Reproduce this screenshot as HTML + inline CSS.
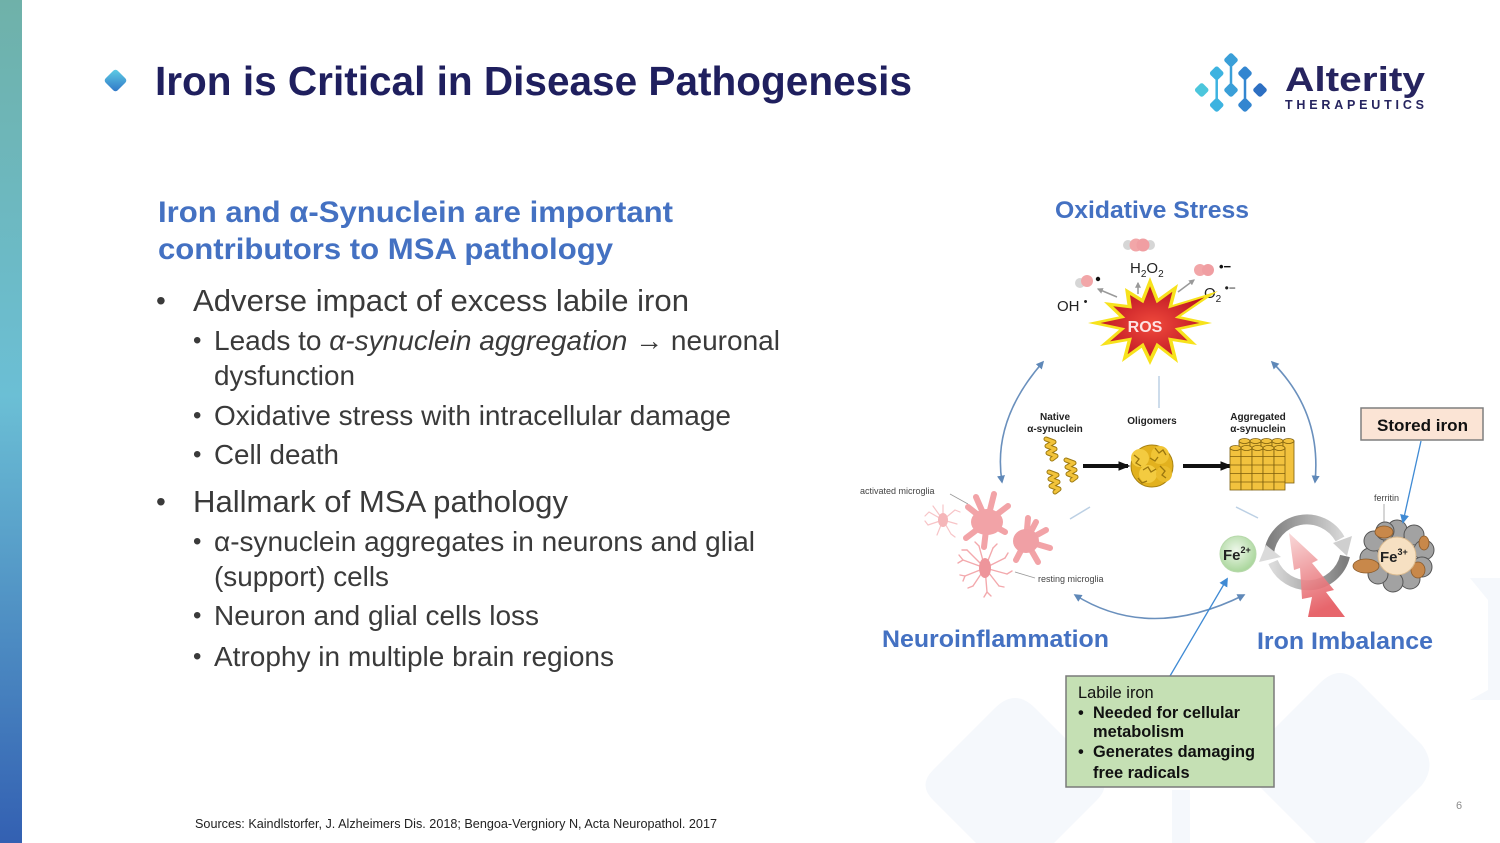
<!DOCTYPE html>
<html><head><meta charset="utf-8"><style>
html,body{margin:0;padding:0;background:#fff;width:1500px;height:843px;overflow:hidden;}
body{position:relative;}
svg{position:absolute;left:0;top:0;display:block;overflow:hidden;}
text{font-family:"Liberation Sans",Arial,sans-serif;}
</style></head><body>
<svg width="1500" height="843" viewBox="0 0 1500 843" xmlns="http://www.w3.org/2000/svg">
<defs>
<linearGradient id="bar" x1="0" y1="0" x2="0" y2="1">
<stop offset="0" stop-color="#6fb1a9"/><stop offset="0.47" stop-color="#6bbfd5"/><stop offset="1" stop-color="#3360b2"/>
</linearGradient>
<linearGradient id="dia" x1="0" y1="0" x2="1" y2="1">
<stop offset="0" stop-color="#5fd0e6"/><stop offset="1" stop-color="#2f74c6"/>
</linearGradient>
<radialGradient id="rosr" cx="0.5" cy="0.55" r="0.6">
<stop offset="0" stop-color="#f04a3c"/><stop offset="1" stop-color="#b81020"/>
</radialGradient>
<linearGradient id="bolt" x1="0" y1="0" x2="0.3" y2="1">
<stop offset="0" stop-color="#f8d6d6"/><stop offset="1" stop-color="#e4555c"/>
</linearGradient>
<linearGradient id="arcTop" x1="0" y1="0" x2="1" y2="0">
<stop offset="0" stop-color="#7d7d7d"/><stop offset="1" stop-color="#d4d4d4"/>
</linearGradient>
<linearGradient id="arcBot" x1="0" y1="0" x2="1" y2="0">
<stop offset="0" stop-color="#dadada"/><stop offset="1" stop-color="#7d7d7d"/>
</linearGradient>
<radialGradient id="fe2" cx="0.45" cy="0.4" r="0.6">
<stop offset="0" stop-color="#eef7ea"/><stop offset="1" stop-color="#a9d69b"/>
</radialGradient>
<marker id="ab" viewBox="0 0 10 10" refX="8" refY="5" markerWidth="8" markerHeight="8" markerUnits="userSpaceOnUse" orient="auto-start-reverse">
<path d="M0,0 L10,5 L0,10 z" fill="#5f88b8"/>
</marker>
<marker id="ab2" viewBox="0 0 10 10" refX="8" refY="5" markerWidth="9" markerHeight="9" markerUnits="userSpaceOnUse" orient="auto">
<path d="M0,0 L10,5 L0,10 z" fill="#3f8ad4"/>
</marker>
<marker id="ag" viewBox="0 0 10 10" refX="8" refY="5" markerWidth="6" markerHeight="6" markerUnits="userSpaceOnUse" orient="auto">
<path d="M0,0 L10,5 L0,10 z" fill="#999"/>
</marker>
<marker id="ak" viewBox="0 0 10 10" refX="8" refY="5" markerWidth="12" markerHeight="12" markerUnits="userSpaceOnUse" orient="auto">
<path d="M0,1 L10,5 L0,9 z" fill="#111"/>
</marker>
</defs>

<!-- faint background shapes -->
<g fill="#f5f8fc">
<path d="M995,708 Q1015,688 1035,708 L1097,770 Q1112,785 1097,800 L1054,843 L976,843 L933,800 Q918,785 933,770 Z"/>
<path d="M1320,683 Q1340,663 1360,683 L1422,745 Q1437,765 1422,785 L1364,843 L1316,843 L1258,785 Q1243,765 1258,745 Z"/>
<rect x="1172" y="790" width="18" height="53"/>
<polygon points="1470,578 1500,578 1500,700 1470,700 1488,690 1488,600"/>
</g>

<!-- left bar -->
<rect x="0" y="0" width="22" height="843" fill="url(#bar)"/>

<!-- title -->
<rect x="107" y="72" width="17" height="17" rx="3" fill="url(#dia)" transform="rotate(45 115.5 80.5)"/>
<text x="155" y="95" font-size="40.5" font-weight="bold" fill="#1f1f5e" textLength="757" lengthAdjust="spacingAndGlyphs">Iron is Critical in Disease Pathogenesis</text>

<!-- logo -->
<g stroke-width="2.5">
<line x1="1231" y1="60" x2="1231" y2="90" stroke="#3a9fd8"/>
<line x1="1216.7" y1="73" x2="1216.7" y2="105" stroke="#3db3e0"/>
<line x1="1245" y1="73" x2="1245" y2="105" stroke="#3386d0"/>
</g>
<g>
<rect x="1225.5" y="54.5" width="11" height="11" rx="2.5" fill="#3a9fd8" transform="rotate(45 1231 60)"/>
<rect x="1211.2" y="67.8" width="11" height="11" rx="2.5" fill="#3db3e0" transform="rotate(45 1216.7 73.3)"/>
<rect x="1239.5" y="67.8" width="11" height="11" rx="2.5" fill="#3386d0" transform="rotate(45 1245 73.3)"/>
<rect x="1196.2" y="84.5" width="11" height="11" rx="2.5" fill="#4cc6dc" transform="rotate(45 1201.7 90)"/>
<rect x="1225.5" y="84.5" width="11" height="11" rx="2.5" fill="#3a9fd8" transform="rotate(45 1231 90)"/>
<rect x="1254.5" y="84.5" width="11" height="11" rx="2.5" fill="#2d6fc2" transform="rotate(45 1260 90)"/>
<rect x="1211.2" y="99.5" width="11" height="11" rx="2.5" fill="#3db3e0" transform="rotate(45 1216.7 105)"/>
<rect x="1239.5" y="99.5" width="11" height="11" rx="2.5" fill="#3386d0" transform="rotate(45 1245 105)"/>
</g>
<text x="1285" y="91" font-size="34" font-weight="bold" fill="#26245f" textLength="140" lengthAdjust="spacingAndGlyphs">Alterity</text>
<text x="1285" y="109" font-size="12.5" font-weight="bold" fill="#26245f" textLength="139" lengthAdjust="spacing">THERAPEUTICS</text>

<!-- left text -->
<text x="158" y="222" font-size="30" font-weight="bold" fill="#4471c2" textLength="515" lengthAdjust="spacingAndGlyphs">Iron and α-Synuclein are important</text>
<text x="158" y="259" font-size="30" font-weight="bold" fill="#4471c2" textLength="455" lengthAdjust="spacingAndGlyphs">contributors to MSA pathology</text>

<g fill="#3a3a3a">
<text x="156" y="310" font-size="28">•</text>
<text x="193" y="311" font-size="30.5" textLength="496" lengthAdjust="spacingAndGlyphs">Adverse impact of excess labile iron</text>
<text x="193" y="348" font-size="24">•</text>
<text x="214" y="350" font-size="28" textLength="566" lengthAdjust="spacingAndGlyphs">Leads to <tspan font-style="italic">α-synuclein aggregation</tspan> → neuronal</text>
<text x="214" y="385" font-size="28" textLength="141" lengthAdjust="spacingAndGlyphs">dysfunction</text>
<text x="193" y="423" font-size="24">•</text>
<text x="214" y="425" font-size="28" textLength="517" lengthAdjust="spacingAndGlyphs">Oxidative stress with intracellular damage</text>
<text x="193" y="462" font-size="24">•</text>
<text x="214" y="464" font-size="28" textLength="125" lengthAdjust="spacingAndGlyphs">Cell death</text>
<text x="156" y="511" font-size="28">•</text>
<text x="193" y="512" font-size="30.5" textLength="375" lengthAdjust="spacingAndGlyphs">Hallmark of MSA pathology</text>
<text x="193" y="549" font-size="24">•</text>
<text x="214" y="551" font-size="28" textLength="541" lengthAdjust="spacingAndGlyphs">α-synuclein aggregates in neurons and glial</text>
<text x="214" y="586" font-size="28" textLength="175" lengthAdjust="spacingAndGlyphs">(support) cells</text>
<text x="193" y="623" font-size="24">•</text>
<text x="214" y="625" font-size="28" textLength="325" lengthAdjust="spacingAndGlyphs">Neuron and glial cells loss</text>
<text x="193" y="664" font-size="24">•</text>
<text x="214" y="666" font-size="28" textLength="400" lengthAdjust="spacingAndGlyphs">Atrophy in multiple brain regions</text>
</g>
<text x="195" y="828" font-size="12.5" fill="#222" textLength="522" lengthAdjust="spacingAndGlyphs">Sources: Kaindlstorfer, J. Alzheimers Dis. 2018; Bengoa-Vergniory N, Acta Neuropathol. 2017</text>
<text x="1456" y="809" font-size="11" fill="#8c8c8c">6</text>

<!-- ===== Diagram ===== -->
<text x="1055" y="218" font-size="24.5" font-weight="bold" fill="#4471c2" textLength="194" lengthAdjust="spacingAndGlyphs">Oxidative Stress</text>
<text x="882" y="647" font-size="24.5" font-weight="bold" fill="#4471c2" textLength="227" lengthAdjust="spacingAndGlyphs">Neuroinflammation</text>
<text x="1257" y="649" font-size="24.5" font-weight="bold" fill="#4471c2" textLength="176" lengthAdjust="spacingAndGlyphs">Iron Imbalance</text>

<!-- molecules -->
<g>
<circle cx="1128" cy="245" r="5" fill="#d6d6d6"/><circle cx="1150" cy="245" r="5" fill="#d6d6d6"/>
<circle cx="1136" cy="245" r="6.5" fill="#f2a6a8"/><circle cx="1143" cy="245" r="6.5" fill="#f09ea2"/>
<circle cx="1080" cy="283" r="5" fill="#d6d6d6"/><circle cx="1087" cy="281" r="6" fill="#f2a6a8"/>
<circle cx="1098" cy="279" r="2.2" fill="#111"/>
<circle cx="1200" cy="270" r="6" fill="#f2a6a8"/><circle cx="1208" cy="270" r="6" fill="#f09ea2"/>
</g>
<text x="1219" y="271" font-size="13" font-weight="bold" fill="#111">•−</text>
<text x="1130" y="273" font-size="15" fill="#222">H<tspan font-size="10" dy="4">2</tspan><tspan dy="-4">O</tspan><tspan font-size="10" dy="4">2</tspan></text>
<text x="1057" y="311" font-size="15" fill="#222">OH <tspan font-size="11" dy="-6">•</tspan></text>
<text x="1204" y="298" font-size="15" fill="#222">O<tspan font-size="10" dy="4">2</tspan><tspan font-size="12" dy="-10"> •−</tspan></text>
<g stroke="#999" stroke-width="1.5">
<line x1="1117" y1="297" x2="1098" y2="289" marker-end="url(#ag)"/>
<line x1="1138" y1="294" x2="1138" y2="283" marker-end="url(#ag)"/>
<line x1="1178" y1="292" x2="1194" y2="280" marker-end="url(#ag)"/>
</g>

<!-- ROS starburst -->
<g transform="translate(1150 323)">
<polygon fill="#f7e21c" points="62,0 30.9,6.6 47,22 22.6,18.1 28,40 8.3,24.7 0,42 -8.3,24.7 -28,39 -22.6,18.1 -50,23 -30.9,6.6 -62,0 -30.9,-6.6 -46,-21 -22.6,-18.1 -25,-35 -8.3,-24.7 0,-46 8.3,-24.7 28,-39 22.6,-18.1 68,-32 30.9,-6.6"/>
<polygon fill="url(#rosr)" transform="scale(0.8)" points="62,0 30.9,6.6 47,22 22.6,18.1 28,40 8.3,24.7 0,42 -8.3,24.7 -28,39 -22.6,18.1 -50,23 -30.9,6.6 -62,0 -30.9,-6.6 -46,-21 -22.6,-18.1 -25,-35 -8.3,-24.7 0,-46 8.3,-24.7 28,-39 22.6,-18.1 68,-32 30.9,-6.6"/>
</g>
<text x="1145" y="332" font-size="16" font-weight="bold" fill="#fde3e3" text-anchor="middle">ROS</text>

<!-- connectors -->
<g fill="none" stroke="#6a90bd" stroke-width="1.6">
<path d="M1043,362 Q992,420 1002,482" marker-start="url(#ab)" marker-end="url(#ab)"/>
<path d="M1272,362 Q1322,412 1315,482" marker-start="url(#ab)" marker-end="url(#ab)"/>
<path d="M1075,595 Q1150,642 1244,595" marker-start="url(#ab)" marker-end="url(#ab)"/>
</g>
<g stroke="#bcd0e4" stroke-width="1.5">
<line x1="1159" y1="376" x2="1159" y2="408"/>
<line x1="1070" y1="519" x2="1090" y2="507"/>
<line x1="1236" y1="507" x2="1258" y2="518"/>
</g>

<!-- synuclein labels -->
<g font-size="10" font-weight="bold" fill="#222" text-anchor="middle">
<text x="1055" y="420">Native</text>
<text x="1055" y="432">α-synuclein</text>
<text x="1152" y="424">Oligomers</text>
<text x="1258" y="420">Aggregated</text>
<text x="1258" y="432">α-synuclein</text>
</g>

<!-- native squiggles -->
<g fill="none" stroke-linejoin="round" stroke-linecap="round">
<g stroke="#9c7a12" stroke-width="5">
<path d="M1046,439 L1054,442 L1047,446 L1055,449 L1048,453 L1056,456 L1052,459"/>
<path d="M1066,460 L1074,463 L1067,467 L1075,470 L1068,474 L1076,477 L1072,480"/>
<path d="M1049,472 L1057,475 L1050,479 L1058,482 L1051,486 L1059,489 L1055,492"/>
</g>
<g stroke="#f2c33a" stroke-width="3">
<path d="M1046,439 L1054,442 L1047,446 L1055,449 L1048,453 L1056,456 L1052,459"/>
<path d="M1066,460 L1074,463 L1067,467 L1075,470 L1068,474 L1076,477 L1072,480"/>
<path d="M1049,472 L1057,475 L1050,479 L1058,482 L1051,486 L1059,489 L1055,492"/>
</g>
</g>
<g stroke="#111" stroke-width="4">
<line x1="1083" y1="466" x2="1128" y2="466" marker-end="url(#ak)"/>
<line x1="1183" y1="466" x2="1230" y2="466" marker-end="url(#ak)"/>
</g>

<!-- oligomer -->
<g>
<circle cx="1152" cy="466" r="21" fill="#e2b11e" stroke="#a88212" stroke-width="1"/>
<circle cx="1140" cy="458" r="9" fill="#f3cb40"/><circle cx="1160" cy="455" r="9" fill="#f0c435"/>
<circle cx="1148" cy="474" r="9" fill="#f3cb40"/><circle cx="1164" cy="474" r="8" fill="#eabc2c"/>
<g stroke="#9a760f" stroke-width="1.3" fill="none">
<path d="M1134,455 l5,4 -3,4 5,3"/><path d="M1155,448 l4,5 4,-3 3,5"/>
<path d="M1143,470 l5,-3 3,5 5,-3"/><path d="M1160,466 l5,5 -3,4 4,3"/>
<path d="M1138,478 l4,5 5,-2"/><path d="M1150,458 l5,3 3,-4"/>
</g>
</g>

<!-- aggregated cylinders -->
<g stroke="#7c5e0c" stroke-width="0.8" fill="#f2c23e">
<g transform="translate(9 -6)">
<rect x="1230" y="447" width="11" height="42"/><rect x="1241" y="447" width="11" height="42"/><rect x="1252" y="447" width="11" height="42"/><rect x="1263" y="447" width="11" height="42"/><rect x="1274" y="447" width="11" height="42"/>
<ellipse cx="1235.5" cy="447" rx="5.5" ry="2.5"/><ellipse cx="1246.5" cy="447" rx="5.5" ry="2.5"/><ellipse cx="1257.5" cy="447" rx="5.5" ry="2.5"/><ellipse cx="1268.5" cy="447" rx="5.5" ry="2.5"/><ellipse cx="1279.5" cy="447" rx="5.5" ry="2.5"/>
</g>
<rect x="1230" y="448" width="11" height="42"/><rect x="1241" y="448" width="11" height="42"/><rect x="1252" y="448" width="11" height="42"/><rect x="1263" y="448" width="11" height="42"/><rect x="1274" y="448" width="11" height="42"/>
<ellipse cx="1235.5" cy="448" rx="5.5" ry="2.5"/><ellipse cx="1246.5" cy="448" rx="5.5" ry="2.5"/><ellipse cx="1257.5" cy="448" rx="5.5" ry="2.5"/><ellipse cx="1268.5" cy="448" rx="5.5" ry="2.5"/><ellipse cx="1279.5" cy="448" rx="5.5" ry="2.5"/>
<g fill="none">
<line x1="1230" y1="456.5" x2="1285" y2="456.5"/><line x1="1230" y1="465" x2="1285" y2="465"/><line x1="1230" y1="473.5" x2="1285" y2="473.5"/><line x1="1230" y1="482" x2="1285" y2="482"/>
</g>
</g>

<!-- microglia -->
<text x="860" y="494" font-size="9" fill="#444">activated microglia</text>
<text x="1038" y="582" font-size="9" fill="#444">resting microglia</text>
<g stroke="#999" stroke-width="0.8">
<line x1="950" y1="494" x2="968" y2="504"/><line x1="1015" y1="572" x2="1035" y2="578"/>
</g>
<g stroke="#f7c4c7" stroke-width="1.2" fill="none" stroke-linecap="round">
<path d="M943,520 l-14,-8 M943,520 l-15,5 M943,520 l-6,15 M943,520 l8,14 M943,520 l14,4 M943,520 l12,-10 M943,520 l0,-15 M943,520 l-10,-14 M929,512 l-4,4 M928,525 l-3,-4 M955,510 l5,2 M951,534 l4,3"/>
</g>
<ellipse cx="943" cy="520" rx="5" ry="7" fill="#f5b6b9"/>
<g stroke="#f2a3a7" stroke-width="6" fill="none" stroke-linecap="round">
<path d="M987,522 L968,507 M987,522 L976,497 M987,522 L994,494 M987,522 L1008,506 M987,522 L1005,532 M987,522 L984,547 M987,522 L966,538"/>
<path d="M1026,541 L1046,530 M1026,541 L1050,548 M1026,541 L1038,562 M1026,541 L1016,560 M1026,541 L1028,518 M1026,541 L1036,522"/>
</g>
<ellipse cx="987" cy="522" rx="16" ry="13" fill="#f2a3a7"/>
<ellipse cx="1026" cy="541" rx="13" ry="12" fill="#f0a0a5"/>
<g stroke="#f3a9ad" stroke-width="1.4" fill="none" stroke-linecap="round">
<path d="M985,568 l-22,-8 M985,568 l-20,8 M985,568 l-12,18 M985,568 l2,24 M985,568 l14,18 M985,568 l22,6 M985,568 l20,-10 M985,568 l8,-20 M985,568 l-6,-22 M985,568 l-18,-18"/>
<path d="M963,560 l-4,-5 M963,560 l-5,3 M965,576 l-5,-1 M965,576 l-2,5 M973,586 l-5,2 M987,592 l-3,5 M987,592 l4,4 M999,586 l5,1 M1007,574 l5,-3 M1005,558 l3,-5 M993,548 l4,-4 M979,546 l-4,-4 M967,550 l-5,0"/>
</g>
<ellipse cx="985" cy="568" rx="6" ry="10" fill="#ee959b"/>

<!-- iron cycle -->
<path d="M1269,553 A38,38 0 0 1 1340,539" fill="none" stroke="url(#arcTop)" stroke-width="10"/>
<polygon points="1352,536 1333,543 1347,556" fill="#cfcfcf"/>
<path d="M1345,556 A38,38 0 0 1 1273,562" fill="none" stroke="url(#arcBot)" stroke-width="10"/>
<polygon points="1259,562 1281,557 1266,545" fill="#dadada"/>
<polygon points="1289,533 1318,560 1312,563 1334,590 1326,592 1345,617 1308,617 1312,597 1302,599 1300,568 1294,570" fill="url(#bolt)" opacity="0.9"/>

<!-- Fe2+ -->
<circle cx="1238" cy="554" r="18" fill="url(#fe2)" stroke="#b7d9ab" stroke-width="1"/>
<text x="1223" y="560" font-size="15" font-weight="bold" fill="#222">Fe<tspan font-size="9" dy="-7">2+</tspan></text>

<!-- ferritin -->
<text x="1374" y="501" font-size="9" fill="#444">ferritin</text>
<line x1="1384" y1="504" x2="1384" y2="522" stroke="#999" stroke-width="0.8"/>
<g fill="#a2a2a2" stroke="#555" stroke-width="1">
<circle cx="1397" cy="530" r="10"/><circle cx="1414" cy="535" r="10"/><circle cx="1424" cy="550" r="10"/><circle cx="1422" cy="567" r="10"/><circle cx="1410" cy="579" r="10"/><circle cx="1393" cy="582" r="10"/><circle cx="1378" cy="574" r="10"/><circle cx="1370" cy="558" r="10"/><circle cx="1374" cy="541" r="10"/><circle cx="1385" cy="531" r="9"/>
</g>
<g fill="#c8884a" stroke="#8a5a2a" stroke-width="0.8">
<ellipse cx="1366" cy="566" rx="13" ry="7"/><ellipse cx="1384" cy="532" rx="9" ry="6"/><ellipse cx="1418" cy="570" rx="7" ry="8"/><ellipse cx="1424" cy="543" rx="5" ry="7"/>
</g>
<circle cx="1397" cy="556" r="19" fill="#f6e0c2" stroke="#d9b98e" stroke-width="1"/>
<text x="1380" y="562" font-size="15" font-weight="bold" fill="#222">Fe<tspan font-size="9" dy="-7">3+</tspan></text>

<!-- Stored iron -->
<rect x="1361" y="408" width="122" height="32" fill="#fbe4d5" stroke="#7f7f7f" stroke-width="1.5"/>
<text x="1377" y="431" font-size="17" font-weight="bold" fill="#111" textLength="91" lengthAdjust="spacingAndGlyphs">Stored iron</text>
<line x1="1421" y1="441" x2="1403" y2="522" stroke="#3f8ad4" stroke-width="1.3" marker-end="url(#ab2)"/>

<!-- Labile iron -->
<line x1="1170" y1="676" x2="1227" y2="579" stroke="#3f8ad4" stroke-width="1.3" marker-end="url(#ab2)"/>
<rect x="1066" y="676" width="208" height="111" fill="#c5e0b4" stroke="#7a7a7a" stroke-width="1.5"/>
<g fill="#111" font-size="16.4">
<text x="1078" y="698">Labile iron</text>
<text x="1078" y="718" font-weight="bold">•</text>
<text x="1093" y="718" font-weight="bold" textLength="147" lengthAdjust="spacingAndGlyphs">Needed for cellular</text>
<text x="1093" y="737" font-weight="bold">metabolism</text>
<text x="1078" y="757" font-weight="bold">•</text>
<text x="1093" y="757" font-weight="bold" textLength="162" lengthAdjust="spacingAndGlyphs">Generates damaging</text>
<text x="1093" y="778" font-weight="bold">free radicals</text>
</g>
</svg>
</body></html>
